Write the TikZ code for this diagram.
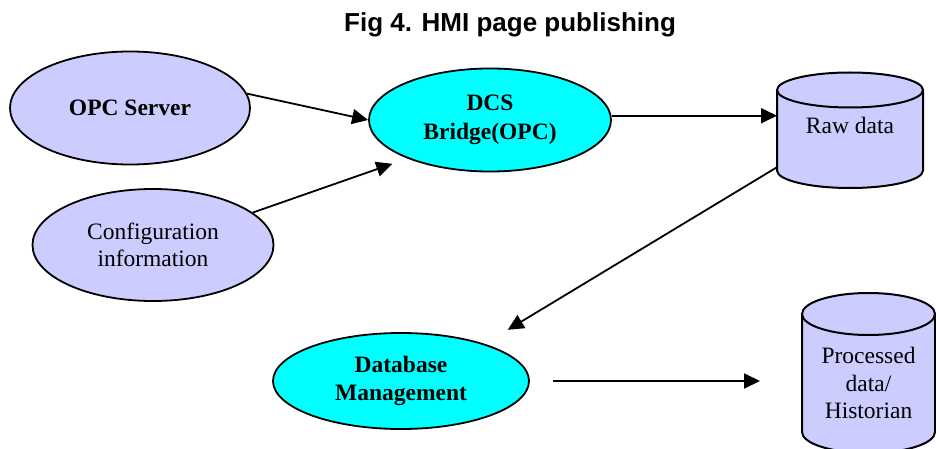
\documentclass[tikz,border=0pt]{standalone}
\usepackage{fontspec}
\setmainfont{Liberation Serif}
\newfontfamily\titlefont{Liberation Sans}
\usetikzlibrary{arrows.meta,shapes.geometric}
\definecolor{lav}{RGB}{204,204,255}
\definecolor{cyanfill}{RGB}{0,255,255}
\begin{document}
\begin{tikzpicture}[x=1pt,y=-1pt,
  oval/.style={ellipse, draw, line width=1.8pt, inner sep=0pt, align=center, font=\fontsize{23.5}{27.5}\selectfont},
  lavoval/.style={oval, fill=lav},
  cyanoval/.style={oval, fill=cyanfill, font=\fontsize{23.5}{27.5}\selectfont\bfseries},
  cylbody/.style={rectangle, inner sep=0pt, outer sep=0pt},
  cyltext/.style={align=center, font=\fontsize{23.5}{27.5}\selectfont},
  cylline/.style={line width=2pt},
  arr/.style={line width=1.8pt, -{Triangle[length=16pt,width=15pt]}}]
\useasboundingbox (0,0) rectangle (936,449);
\clip (0,0) rectangle (936,449);

% title
\node[anchor=base, font=\titlefont\bfseries\fontsize{26}{30}\selectfont] (title) at (510,32) {Fig 4. HMI page publishing};

% ellipses
\node[lavoval, minimum width=240pt, minimum height=113pt, font=\fontsize{23.5}{27.5}\selectfont\bfseries] (opc) at (130,108) {OPC Server};
\node[lavoval, minimum width=241pt, minimum height=112pt] (cfg) at (153,245) {Configuration\\information};
\node[cyanoval, minimum width=242pt, minimum height=103pt] (dcs) at (490,120) {DCS\\[2pt]Bridge(OPC)};
\node[cyanoval, minimum width=256pt, minimum height=96pt] (db) at (401,381) {Database\\Management};

% Raw data cylinder
\fill[lav] (777,90) -- (777,170.5) arc[start angle=180, end angle=360, x radius=73pt, y radius=17.5pt] -- (923,90) -- cycle;
\draw[cylline] (777,90) -- (777,170.5) arc[start angle=180, end angle=360, x radius=73pt, y radius=17.5pt] -- (923,90);
\draw[cylline, fill=lav] (850,90) ellipse[x radius=73pt, y radius=17.5pt];
\node[cylbody, minimum width=146pt, minimum height=116pt] (raw) at (850,130) {};
\node[cyltext] (rawtxt) at (850,125) {Raw data};

% Processed data cylinder
\fill[lav] (802,314) -- (802,432) arc[start angle=180, end angle=360, x radius=66.5pt, y radius=21pt] -- (935,314) -- cycle;
\draw[cylline] (802,314) -- (802,432) arc[start angle=180, end angle=360, x radius=66.5pt, y radius=21pt] -- (935,314);
\draw[cylline, fill=lav] (868.5,314) ellipse[x radius=66.5pt, y radius=21pt];
\node[cylbody, minimum width=133pt, minimum height=160pt] (proc) at (868.5,373) {};
\node[cyltext] (proctxt) at (868.5,383) {Processed\\data/\\Historian};

% connectors
\draw[arr] (opc.7) -- (dcs.west);
\draw[arr, shorten >=16pt] (cfg.18) -- (dcs.205);
\draw[arr] (dcs.2) -- (raw.west |- dcs.2);
\draw[arr, shorten >=27pt] (raw.207.5) -- (db.24);
\draw[arr, shorten <=23pt, shorten >=42pt] (db.east) -- (proc.west |- db.east);
\end{tikzpicture}
\end{document}
